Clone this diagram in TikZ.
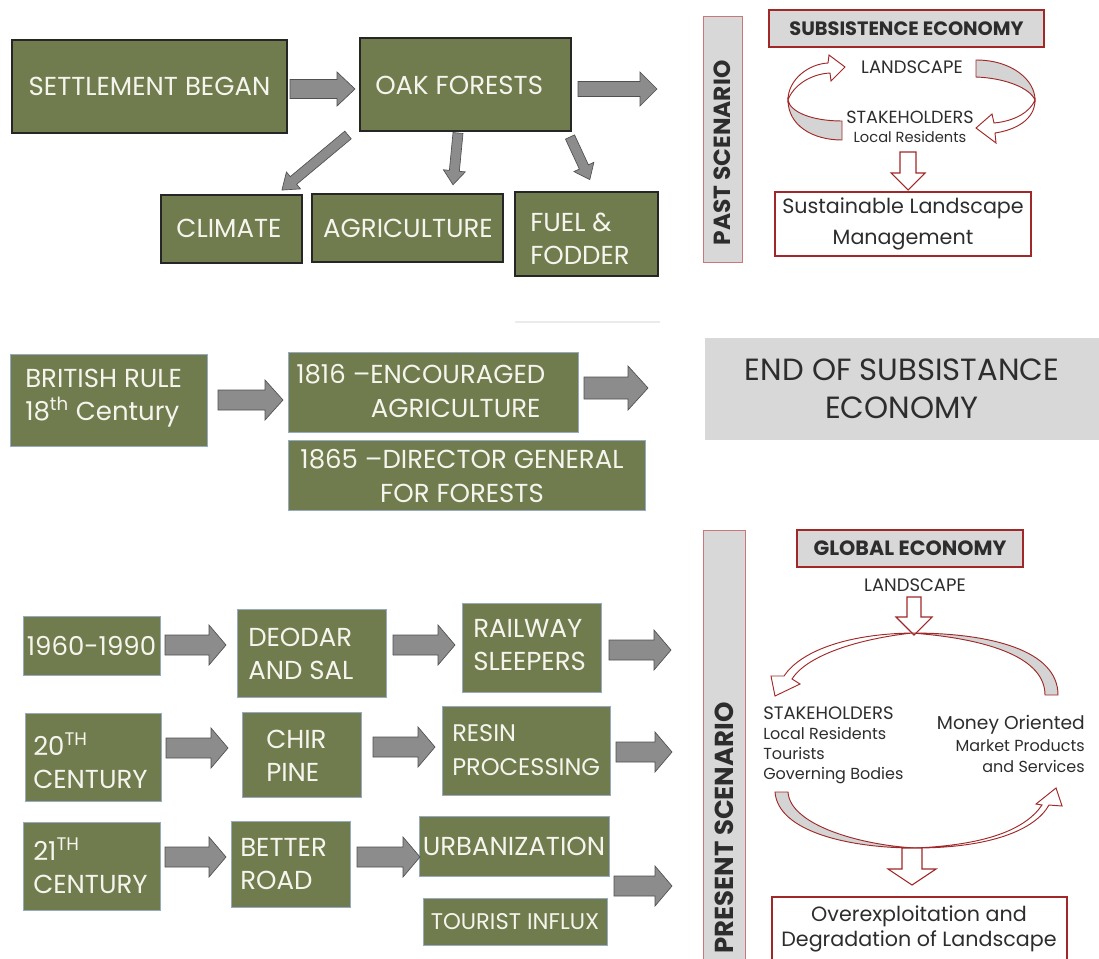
\documentclass[tikz,border=0pt]{standalone}
\usepackage{fontspec}
\setmainfont{Poppins}
\usetikzlibrary{fit}
\definecolor{boxgreen}{RGB}{112,124,78}
\definecolor{boxedge}{RGB}{150,170,195}
\definecolor{arrfill}{RGB}{140,140,140}
\definecolor{arrline}{RGB}{80,80,80}
\definecolor{darkred}{RGB}{160,40,40}
\definecolor{lightred}{RGB}{200,120,120}
\definecolor{panelgray}{RGB}{216,216,216}
\definecolor{ribbongray}{RGB}{212,212,212}
\definecolor{wtext}{RGB}{245,245,238}
\definecolor{dtext}{RGB}{45,45,45}
\tikzset{
  gtop/.style={fill=boxgreen, draw=black!85, line width=1.5pt, inner sep=0pt},
  gbot/.style={fill=boxgreen, draw=boxedge, line width=0.6pt, inner sep=0pt},
  wt/.style={text=wtext, font=\fontsize{19.5}{25}\selectfont, inner sep=0pt},
  dt/.style={text=dtext, inner sep=0pt},
  garrow/.style={fill=arrfill, draw=arrline, line width=0.5pt},
  harrow/.style={fill=white, draw=darkred, line width=0.8pt},
  ribbong/.style={fill=ribbongray, draw=darkred, line width=0.7pt},
  ribbonw/.style={fill=white, draw=darkred, line width=0.7pt},
  redbox/.style={fill=white, draw=darkred, line width=1.5pt, inner sep=0pt},
  graybox/.style={fill=panelgray, draw=darkred, line width=1.5pt, inner sep=0pt},
  sidebox/.style={fill=panelgray, draw=lightred, line width=0.6pt, inner sep=0pt},
}
\newcommand\bx[6]{\node[#6, fit={(#2,#3) (#4,#5)}] (#1) {};}
\newcommand\barrow[6]{\filldraw[garrow] (#1,#3-#4) -- (#2-#6,#3-#4) -- (#2-#6,#3-#5) -- (#2,#3) -- (#2-#6,#3+#5) -- (#2-#6,#3+#4) -- (#1,#3+#4) -- cycle;}
\newcommand\rarrow[7]{\begin{scope}[shift={(#1,#2)},rotate=#3]\barrow{0}{#4}{0}{#5}{#6}{#7}\end{scope}}
\newcommand\hdown[6]{\filldraw[harrow] (#1-#4,#2) -- (#1+#4,#2) -- (#1+#4,#3-#6) -- (#1+#5,#3-#6) -- (#1,#3) -- (#1-#5,#3-#6) -- (#1-#4,#3-#6) -- cycle;}
\begin{document}
\begin{tikzpicture}[x=0.75pt,y=-0.75pt]
\useasboundingbox (0,0) rectangle (1099,958);
\fill[white] (0,0) rectangle (1099,958);

% ---------- top section ----------
\bx{settle}{12}{40}{287}{133}{gtop}
\bx{oak}{360}{38}{571}{131}{gtop}
\bx{climate}{161}{195}{302}{263}{gtop}
\bx{agri}{312}{194}{503}{262}{gtop}
\bx{fuel}{515}{192}{658}{276}{gtop}
\node[wt] (tsettle) at (settle) {SETTLEMENT BEGAN};
\node[wt, anchor=west] (toak) at (375,85) {OAK FORESTS};
\node[wt] (tclimate) at (229,228) {CLIMATE};
\node[wt] (tagri) at (408,228) {AGRICULTURE};
\node[wt, anchor=west, align=left] (tfuel) at (530,239) {FUEL \&\\FODDER};
\barrow{290}{355}{89}{9.5}{17}{18}
\barrow{578}{657}{89}{7.5}{17}{17}
\rarrow{348}{135}{219.8}{86}{5}{11}{15}
\rarrow{458}{133}{264.5}{52}{5}{11}{14}
\rarrow{570}{137}{294.9}{47}{5}{11}{14}

% past scenario panel
\bx{past}{703}{16}{742}{262}{sidebox}
\node[dt, rotate=90, font=\bfseries\fontsize{17.5}{19}\selectfont] (tpast) at (722,153) {PAST SCENARIO};
\bx{subs}{769}{10}{1044}{47}{graybox}
\node[dt, font=\bfseries\fontsize{14.5}{17}\selectfont] (tsubs) at (subs) {SUBSISTENCE ECONOMY};
\node[dt, font=\fontsize{13.5}{15}\selectfont] (land1) at (912,67) {LANDSCAPE};
\node[dt, font=\fontsize{13.2}{15}\selectfont] (stake1) at (910,117) {STAKEHOLDERS};
\node[dt, font=\fontsize{11}{13}\selectfont] (local1) at (910,137) {Local Residents};
% left ribbon arrow
\filldraw[ribbong] (842,121) .. controls (812,121) and (790,112) .. (788,100) .. controls (788,125) and (812,140) .. (842,140) -- cycle;
\filldraw[ribbonw] (788,100) .. controls (788,80) and (808,64) .. (828,63) -- (829,55) -- (845,67) -- (831,81) -- (830,73) .. controls (810,74) and (793,86) .. (788,100) -- cycle;
% right ribbon arrow
\filldraw[ribbong] (976,60) .. controls (1012,60) and (1035,80) .. (1035,100) .. controls (1030,88) and (1005,78) .. (976,77) -- cycle;
\filldraw[ribbonw] (1035,100) .. controls (1035,120) and (1015,130) .. (995,133) -- (996,143) -- (976,128) -- (992,114) -- (994,123) .. controls (1015,121) and (1030,112) .. (1035,100) -- cycle;
\hdown{908}{152}{190}{8}{17}{17}
\bx{sust}{775}{192}{1031}{256}{redbox}
\node[dt, align=center, font=\fontsize{15.5}{23}\selectfont] (tsust) at (sust) {Sustainable Landscape\\Management};

% ---------- middle section ----------
\draw[black!8, line width=0.8pt] (515,322) -- (660,322);
\bx{brit}{10}{354}{207}{446}{gbot}
\bx{e1816}{288}{352}{578}{432}{gbot}
\bx{e1865}{288}{440}{645}{510}{gbot}
\node[wt, anchor=west, align=left] (tbrit) at (25,398) {BRITISH RULE\\18\textsuperscript{th} Century};
\node[wt, anchor=west, align=left] (t1816) at (296,391) {1816 –ENCOURAGED\\\hspace*{56pt}AGRICULTURE};
\node[wt, align=center] (t1865) at (462,476) {1865 –DIRECTOR GENERAL\\FOR FORESTS};
\barrow{218}{283}{400}{10}{20}{18}
\barrow{584}{648}{388}{11}{22}{20}
\bx{endsub}{705}{338}{1099}{440}{fill=panelgray, inner sep=0pt}
\node[dt, align=center, font=\fontsize{23}{28.5}\selectfont] (tend) at (endsub) {END OF SUBSISTANCE\\ECONOMY};

% ---------- bottom section ----------
\bx{r1a}{23}{616}{160}{675}{gbot}
\bx{r1b}{237}{609}{386}{697}{gbot}
\bx{r1c}{462}{603}{601}{692}{gbot}
\bx{r2a}{25}{713}{161}{801}{gbot}
\bx{r2b}{242}{712}{361}{797}{gbot}
\bx{r2c}{442}{706}{610}{795}{gbot}
\bx{r3a}{23}{822}{160}{910}{gbot}
\bx{r3b}{231}{821}{350}{907}{gbot}
\bx{r3c}{419}{816}{609}{876}{gbot}
\bx{r3d}{423}{898}{607}{945}{gbot}
\node[wt] (t1960) at (r1a) {1960-1990};
\node[wt, anchor=west, align=left] (tdeo) at (248,654) {DEODAR\\AND SAL};
\node[wt, anchor=west, align=left] (trail) at (473,645) {RAILWAY\\SLEEPERS};
\node[wt, anchor=west, align=left] (t20) at (33,761) {20\textsuperscript{TH}\\CENTURY};
\node[wt, anchor=west, align=left] (tchir) at (266,756) {CHIR\\PINE};
\node[wt, anchor=west, align=left, font=\fontsize{18}{25}\selectfont] (tresin) at (452,750) {RESIN\\PROCESSING};
\node[wt, anchor=west, align=left] (t21) at (33,866) {21\textsuperscript{TH}\\CENTURY};
\node[wt, anchor=west, align=left] (tbetter) at (240,864) {BETTER\\ROAD};
\node[wt] (turban) at (r3c) {URBANIZATION};
\node[wt, font=\fontsize{17}{20}\selectfont] (ttour) at (r3d) {TOURIST INFLUX};
\barrow{165}{226}{645}{10}{20}{17}
\barrow{393}{455}{645}{10}{20}{17}
\barrow{609}{671}{650}{10}{20}{17}
\barrow{166}{228}{748}{10}{20}{17}
\barrow{373}{435}{747}{10}{20}{17}
\barrow{616}{672}{752}{10}{20}{17}
\barrow{165}{226}{857}{10}{20}{17}
\barrow{357}{420}{857}{10}{20}{17}
\barrow{614}{672}{886}{10}{20}{17}

% present scenario panel
\bx{pres}{703}{530}{745}{965}{sidebox}
\node[dt, rotate=90, font=\bfseries\fontsize{19.5}{21}\selectfont] (tpres) at (724,828) {PRESENT SCENARIO};
\bx{glob}{797}{530}{1023}{567}{graybox}
\node[dt, font=\bfseries\fontsize{15.5}{17}\selectfont] (tglob) at (glob) {GLOBAL ECONOMY};
\node[dt, font=\fontsize{13.5}{15}\selectfont] (land2) at (915,585) {LANDSCAPE};
\hdown{914}{597}{635}{7}{18}{18}
% top arc
\filldraw[ribbong] (1045,695) -- (1058,695) .. controls (1058,650) and (990,633) .. (912,633) .. controls (990,639) and (1045,658) .. (1045,695) -- cycle;
\filldraw[ribbonw] (912,633) .. controls (845,634) and (800,652) .. (784,676) -- (771,676) -- (775,696) -- (800,684) -- (792,679) .. controls (805,658) and (850,640) .. (912,633) -- cycle;
\node[dt, anchor=west, align=left, font=\fontsize{12}{15}\selectfont] (tstake2) at (763,745) {{\fontsize{13.5}{15}\selectfont STAKEHOLDERS}\\Local Residents\\Tourists\\Governing Bodies};
\node[dt, anchor=east, align=right, font=\fontsize{12}{16}\selectfont] (tmoney) at (1085,744) {{\fontsize{14}{16}\selectfont Money Oriented}\\Market Products\\and Services};
% bottom arc
\filldraw[ribbong] (775,792) -- (788,792) .. controls (790,825) and (860,845) .. (915,848) .. controls (850,848) and (778,832) .. (775,792) -- cycle;
\filldraw[ribbonw] (915,848) .. controls (990,848) and (1035,830) .. (1049,805) -- (1062,806) -- (1056,788) -- (1036,804) -- (1042,805) .. controls (1025,830) and (985,845) .. (915,848) -- cycle;
\hdown{912}{848}{885}{10}{24}{16}
\bx{over}{772}{897}{1067}{975}{redbox}
\node[dt, align=center, font=\fontsize{15.5}{19}\selectfont] (tover) at (919,929) {Overexploitation and\\Degradation of Landscape};
\end{tikzpicture}
\end{document}
